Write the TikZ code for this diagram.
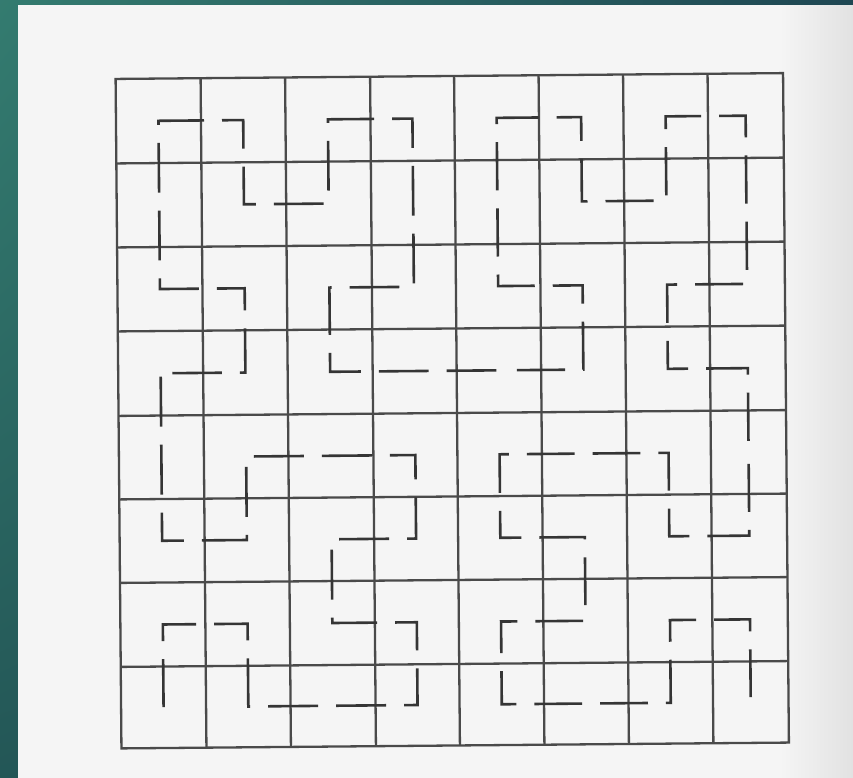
\documentclass[tikz,border=0pt]{standalone}
\usetikzlibrary{shadings}
\definecolor{tealA}{HTML}{347C70}
\definecolor{tealB}{HTML}{235656}
\definecolor{tealC}{HTML}{1E4652}
\definecolor{pageA}{HTML}{F5F5F5}
\definecolor{pageB}{HTML}{E0E0E0}
\definecolor{gridgray}{HTML}{4A4A4A}
\definecolor{curvegray}{HTML}{353535}
\begin{document}
\begin{tikzpicture}[x=1pt,y=-1pt,
  gridline/.style={draw=gridgray,line width=2.3pt},
  hilbert/.style={draw=curvegray,line width=2.6pt,line join=miter}]
\useasboundingbox (0,0) rectangle (853,777);
\shade[upper left=tealA,lower left=tealB,upper right=tealC,lower right=tealC] (-5,-5) rectangle (860,790);
\fill[pageA] (18,5) rectangle (781,790);
\shade[left color=pageA,right color=pageB] (780,5) rectangle (860,790);
\begin{scope}[rotate around={0.5:(452,411)}]
  % grid
  \draw[gridline] (118.5,76) rectangle (786,745.5);
  \foreach \xx in {203.5,288,373,457,541.5,626,710.5}
    \draw[gridline] (\xx,76) -- (\xx,745.5);
  \foreach \yy in {160.5,244.5,328.5,413,496.5,580,664}
    \draw[gridline] (118.5,\yy) -- (786,\yy);
  % cell centres
  \foreach \c/\xx in {0/161,1/245.75,2/330.5,3/415,4/499.25,5/583.75,6/668.25,7/748.25}
    \foreach \r/\yy in {0/118.25,1/202.5,2/286.5,3/370.75,4/454.75,5/538.25,6/622,7/704.75}
      \coordinate (p\c\r) at (\xx,\yy);
  % Hilbert curve, drawn in four runs
  \draw[hilbert,dash pattern=on 50pt off 18pt,dash phase=2pt]
    (p07) -- (p06) -- (p16) -- (p17) -- (p27) -- (p37) -- (p36) -- (p26)
    -- (p25) -- (p35) -- (p34) -- (p24) -- (p14) -- (p15) -- (p05) -- (p04) -- (p03);
  \draw[hilbert,dash pattern=on 49.7pt off 18pt,dash phase=56.1pt]
    (p03) -- (p13) -- (p12) -- (p02) -- (p01) -- (p00) -- (p10) -- (p11)
    -- (p21) -- (p20) -- (p30) -- (p31) -- (p32) -- (p22) -- (p23) -- (p33) -- (p43);
  \draw[hilbert,dash pattern=on 48.2pt off 18pt,dash phase=48.2pt]
    (p43) -- (p53) -- (p52) -- (p42) -- (p41) -- (p40) -- (p50) -- (p51)
    -- (p61) -- (p60) -- (p70) -- (p71) -- (p72) -- (p62) -- (p63) -- (p73) -- (p74);
  \draw[hilbert,dash pattern=on 47.82pt off 18pt,dash phase=54pt]
    (p74) -- (p75) -- (p65) -- (p64) -- (p54) -- (p44) -- (p45) -- (p55)
    -- (p56) -- (p46) -- (p47) -- (p57) -- (p67) -- (p66) -- (p76) -- (p77);
\end{scope}
\end{tikzpicture}
\end{document}
